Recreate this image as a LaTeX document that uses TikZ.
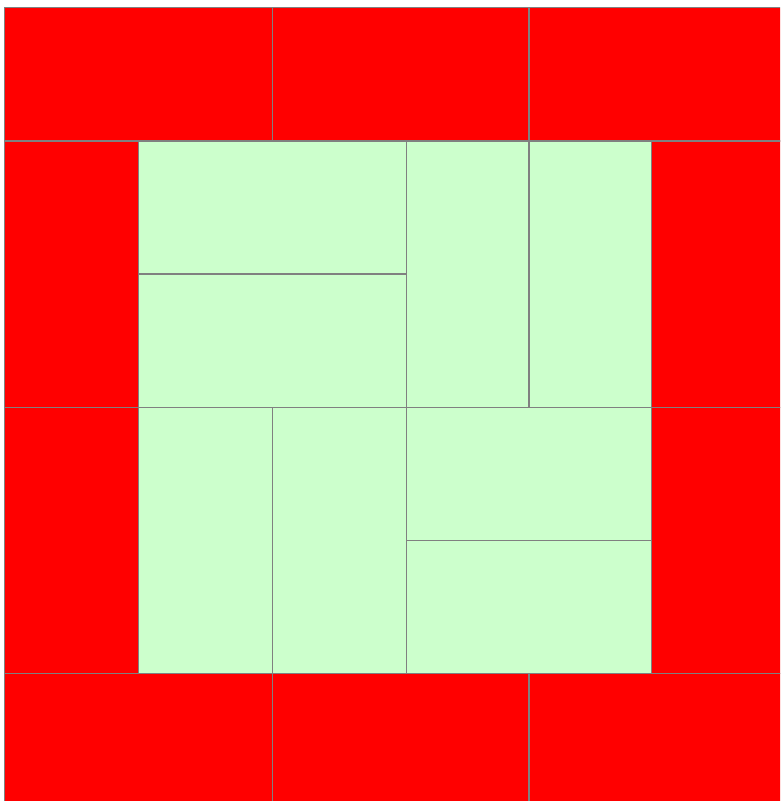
\documentclass[tikz,border=0pt]{standalone}
\definecolor{tilered}{RGB}{255,0,0}
\definecolor{tilegreen}{RGB}{204,255,204}
\definecolor{tileline}{RGB}{128,128,128}
\tikzset{
  redtile/.style={fill=tilered, draw=tileline, line width=1.5pt},
  greentile/.style={fill=tilegreen, draw=tileline, line width=1.5pt}
}
\begin{document}
\begin{tikzpicture}[x=1pt,y=-1pt]
\useasboundingbox (0,0) rectangle (780,801);
\fill[white] (0,0) rectangle (780,801);
\clip (0,0) rectangle (780,801);
% top row
\draw[redtile] (4.5,7.5) rectangle (272.3,141);
\draw[redtile] (272.3,7.5) rectangle (529,141);
\draw[redtile] (529,7.5) rectangle (790,141);
% bottom row
\draw[redtile] (4.5,673.7) rectangle (272.3,810);
\draw[redtile] (272.3,673.7) rectangle (529,810);
\draw[redtile] (529,673.7) rectangle (790,810);
% left column
\draw[redtile] (4.5,141) rectangle (138.3,407.3);
\draw[redtile] (4.5,407.3) rectangle (138.3,673.7);
% right column
\draw[redtile] (651.7,141) rectangle (790,407.3);
\draw[redtile] (651.7,407.3) rectangle (790,673.7);
% green interior
\draw[greentile] (138.3,141) rectangle (406.3,274);
\draw[greentile] (138.3,274) rectangle (406.3,407.3);
\draw[greentile] (406.3,141) rectangle (529,407.3);
\draw[greentile] (529,141) rectangle (651.7,407.3);
\draw[greentile] (138.3,407.3) rectangle (272.3,673.7);
\draw[greentile] (272.3,407.3) rectangle (406.3,673.7);
\draw[greentile] (406.3,407.3) rectangle (651.7,540.7);
\draw[greentile] (406.3,540.7) rectangle (651.7,673.7);
\end{tikzpicture}
\end{document}
